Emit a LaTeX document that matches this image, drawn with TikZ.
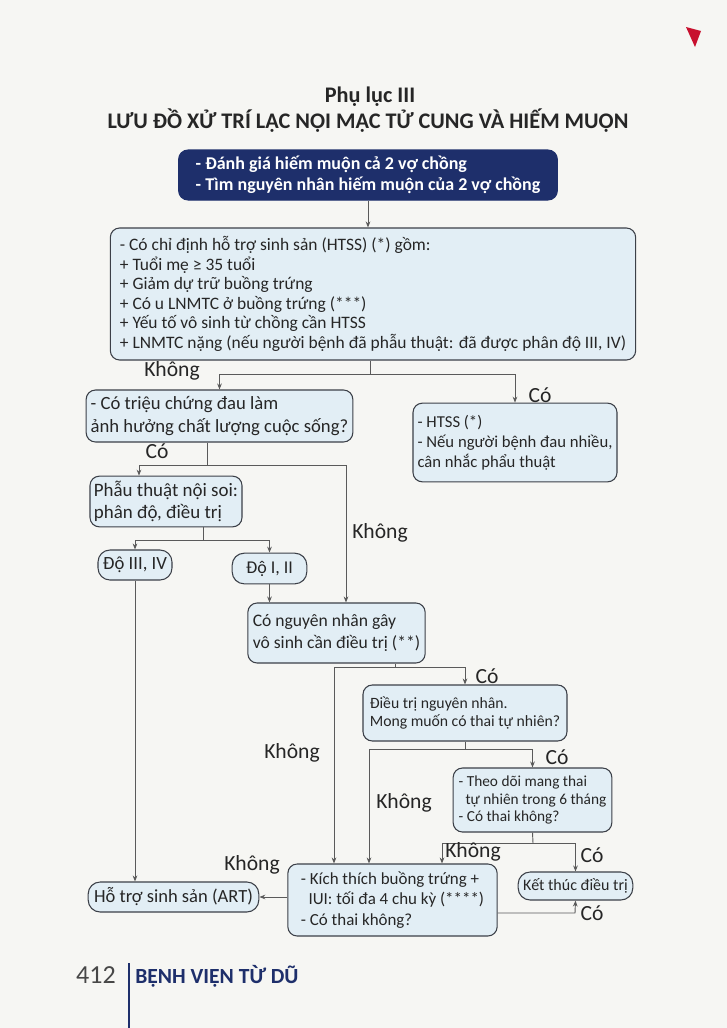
\documentclass[tikz,border=0pt]{standalone}
\usepackage{fontspec}
\setmainfont{Carlito}
\usetikzlibrary{arrows.meta}

\definecolor{navy}{HTML}{1E2F6B}
\definecolor{boxfill}{HTML}{E2EEF5}
\definecolor{edge}{HTML}{3C4048}
\definecolor{wirec}{HTML}{5A5A5A}
\definecolor{ink}{HTML}{262626}
\definecolor{paper}{HTML}{F6F6F3}
\definecolor{tab}{HTML}{C8102E}

\begin{document}
\begin{tikzpicture}[x=0.75pt, y=-0.75pt,
    flow/.style={draw=edge, fill=boxfill, rounded corners=7pt, line width=0.8pt,
      inner xsep=2.5pt, inner ysep=2pt, align=left, text=ink,
      font=\fontsize{12}{14.5}\selectfont},
    pill/.style={flow, align=center, rounded corners=9pt},
    ttl/.style={font=\bfseries\fontsize{16.7}{18}\selectfont, text=ink, inner sep=0pt},
    wire/.style={draw=wirec, line width=0.7pt},
    arr/.style={wire, -{Stealth[length=4.5pt, width=3.5pt]}},
    lab/.style={font=\fontsize{16.2}{17}\selectfont, text=ink, inner sep=0pt}]

        % --- Page ---
        \fill[paper] (0,0) rectangle (727,1028);
        \useasboundingbox (0,0) rectangle (727,1028);
        \fill[tab] (686,27) -- (701,31) -- (695,47) -- cycle;

        % --- Title ---
        \node[ttl] (ttlA) at (370,97) {Phụ lục III};
        \node[ttl] (ttlB) at (368,121) {LƯU ĐỒ XỬ TRÍ LẠC NỘI MẠC TỬ CUNG VÀ HIẾM MUỘN};

        % --- Boxes ---
        \node[flow, fill=navy, draw=navy, text=white, minimum width=284pt, minimum height=37.5pt,
          font=\bfseries\fontsize{13.5}{15.5}\selectfont] (eval) at (368,175)
          {- Đánh giá hiếm muộn cả 2 vợ chồng\\- Tìm nguyên nhân hiếm muộn của 2 vợ chồng};
        \node[flow, minimum width=394pt, minimum height=99pt,
          font=\fontsize{13.1}{14.6}\selectfont] (indic) at (373,294)
          {- Có chỉ định hỗ trợ sinh sản (HTSS) (*) gồm:\\
           + Tuổi mẹ ≥ 35 tuổi\\
           + Giảm dự trữ buồng trứng\\
           + Có u LNMTC ở buồng trứng (***)\\
           + Yếu tố vô sinh từ chồng cần HTSS\\
           + LNMTC nặng (nếu người bệnh đã phẫu thuật: đã được phân độ III, IV)};
        \node[flow, minimum width=200pt, minimum height=39pt,
          font=\fontsize{14}{17.5}\selectfont] (pain) at (219.5,416)
          {- Có triệu chứng đau làm\\ảnh hưởng chất lượng cuộc sống?};
        \node[flow, minimum width=153pt, minimum height=59pt,
          font=\fontsize{12.5}{15}\selectfont] (htss) at (515,442.5)
          {- HTSS (*)\\- Nếu người bệnh đau nhiều,\\cân nhắc phẩu thuật};
        \node[flow, minimum width=114pt, minimum height=38pt,
          font=\fontsize{14.2}{16.5}\selectfont] (lap) at (166,501.5)
          {Phẫu thuật nội soi:\\phân độ, điều trị};
        \node[pill, minimum width=55.5pt, minimum height=22.5pt,
          font=\fontsize{14}{16}\selectfont] (grA) at (135,565) {Độ III, IV};
        \node[pill, minimum width=56pt, minimum height=23pt,
          font=\fontsize{13.5}{16}\selectfont] (grB) at (269.5,568.5) {Độ I, II};
        \node[flow, minimum width=133pt, minimum height=45pt,
          font=\fontsize{13.2}{16.5}\selectfont] (cause) at (336.5,633)
          {Có nguyên nhân gây\\vô sinh cần điều trị (**)};
        \node[flow, minimum width=153pt, minimum height=42pt,
          font=\fontsize{11.8}{14}\selectfont] (treat) at (465,713)
          {Điều trị nguyên nhân.\\Mong muốn có thai tự nhiên?};
        \node[flow, minimum width=119pt, minimum height=48pt, inner xsep=2pt,
          font=\fontsize{11.5}{13}\selectfont] (watch) at (532.5,800)
          {- Theo dõi mang thai\\\hspace{0.45em}tự nhiên trong 6 tháng\\- Có thai không?};
        \node[flow, minimum width=157pt, minimum height=54pt,
          font=\fontsize{12.7}{15.5}\selectfont] (iui) at (392.5,900)
          {- Kích thích buồng trứng +\\\hspace{0.45em}IUI: tối đa 4 chu kỳ (****)\\- Có thai không?};
        \node[pill, minimum width=128pt, minimum height=22.5pt,
          font=\fontsize{13.9}{16}\selectfont] (art) at (173.5,897) {Hỗ trợ sinh sản (ART)};
        \node[pill, minimum width=86pt, minimum height=21pt] (stop) at (575.5,886) {Kết thúc điều trị};

        % --- Connectors ---
        \draw[arr] (eval.south) -- (eval.south |- indic.north);

        \coordinate (jA) at (370,374);
        \draw[wire] (jA |- indic.south) -- (jA);
        \draw[arr] (jA) -| (pain.north);
        \draw[arr] (jA) -| (htss.north);
        \node[lab] (kA) at (172,371) {Không};
        \node[lab] (cA) at (540,395) {Có};

        \coordinate (jB) at (207,465);
        \coordinate (jBl) at (139,465);
        \coordinate (jBr) at (346,465);
        \draw[wire] (jB |- pain.south) -- (jB);
        \draw[arr] (jB) -- (jBl) -- (jBl |- lap.north);
        \draw[arr] (jB) -- (jBr) -- (jBr |- cause.north);
        \node[lab] (cB) at (157,451) {Có};
        \node[lab] (kB) at (380,533) {Không};

        \coordinate (jC) at (203,540);
        \draw[wire] (jC |- lap.south) -- (jC);
        \draw[arr] (jC) -| (grA.north);
        \draw[arr] (jC) -| (grB.north);
        \draw[arr] (grB.south) -- (grB.south |- cause.north);

        \coordinate (jD) at (395,667);
        \coordinate (jDl) at (334,667);
        \draw[wire] (jD |- cause.south) -- (jD);
        \draw[arr] (jD) -| (treat.north);
        \draw[arr] (jD) -- (jDl) -- (jDl |- iui.north);
        \node[lab] (cD) at (487,676) {Có};
        \node[lab] (kD) at (292,753) {Không};

        \coordinate (jE) at (465,749);
        \coordinate (jEl) at (369,749);
        \draw[wire] (treat.south) -- (jE);
        \draw[arr] (jE) -| (watch.north);
        \draw[arr] (jE) -- (jEl) -- (jEl |- iui.north);
        \node[lab] (cE) at (557,757) {Có};
        \node[lab] (kE) at (404,803) {Không};

        \coordinate (jF) at (533,843);
        \coordinate (jFl) at (442,843);
        \draw[wire] (watch.south) -- (jF);
        \draw[arr] (jF) -- (jFl) -- (jFl |- iui.north);
        \draw[arr] (jF) -| (stop.north);
        \node[lab] (kF) at (473,852) {Không};
        \node[lab] (cF) at (592,855) {Có};

        \draw[arr] (iui.west |- art.east) -- (art.east);
        \node[lab] (kG) at (252,865) {Không};

        \coordinate (jH) at (575,913);
        \draw[arr] (iui.east |- jH) -- (jH) -- (stop.south);
        \node[lab] (cH) at (592,913) {Có};

        \draw[arr] (grA.south) -- (grA.south |- art.north);

        % --- Footer ---
        \node[font=\fontsize{19.5}{20}\selectfont, text=ink!85, anchor=east, inner sep=0pt] (pgno) at (116,975) {412};
        \draw[navy, line width=1pt] (129,963) -- (129,1028);
        \node[font=\bfseries\fontsize{16.2}{17}\selectfont, text=navy, anchor=west, inner sep=0pt] (runhead) at (135,976) {BỆNH VIỆN TỪ DŨ};

\end{tikzpicture}
\end{document}
